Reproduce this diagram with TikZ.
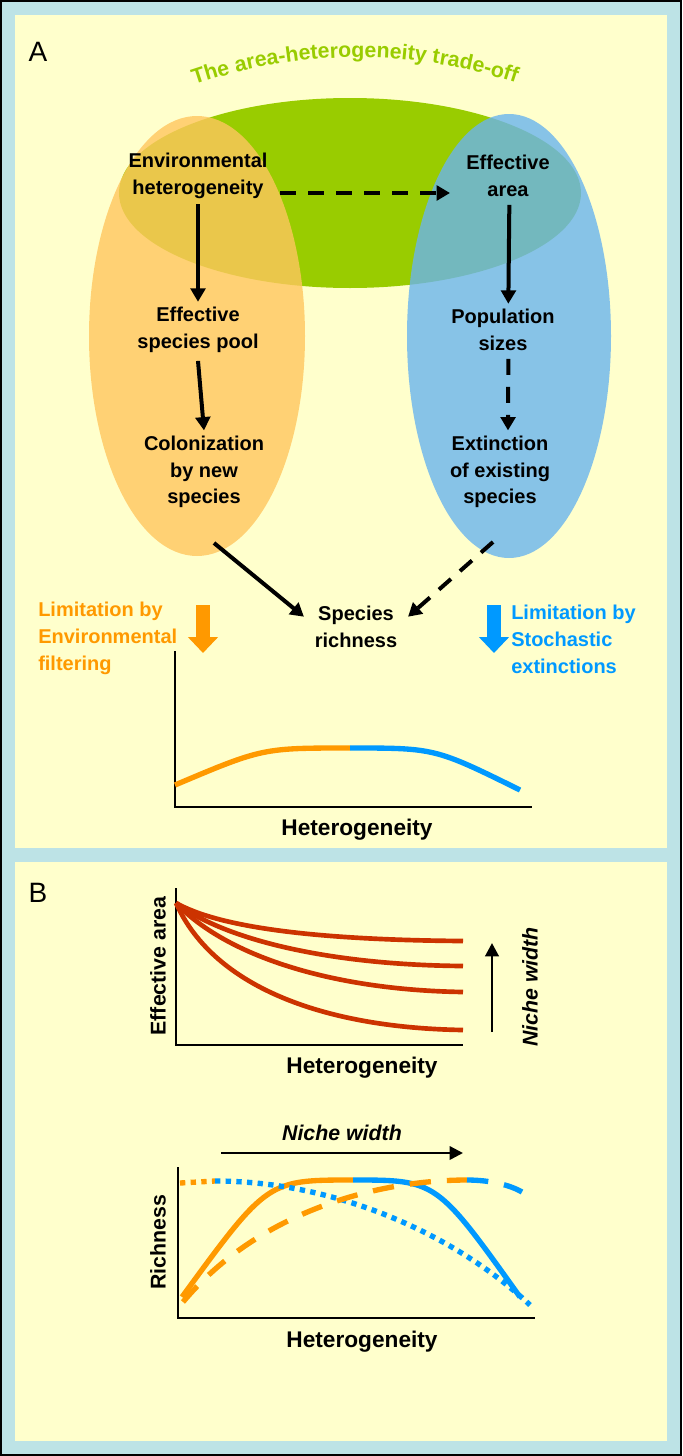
\documentclass[tikz,border=0pt]{standalone}
\usepackage{fontspec}
\setmainfont{Liberation Sans}
\usetikzlibrary{arrows.meta,decorations.text}
\definecolor{frame}{HTML}{BDE3E6}
\definecolor{pale}{HTML}{FFFFCC}
\definecolor{grn}{HTML}{99CC00}
\definecolor{org}{HTML}{FF9900}
\definecolor{orgfill}{HTML}{FFC65E}
\definecolor{blu}{HTML}{0099FF}
\definecolor{blufill}{HTML}{6AB4EE}
\definecolor{redc}{HTML}{CC3300}
\tikzset{
 lbl/.style={font=\fontsize{15}{20}\selectfont\bfseries, align=center, inner sep=0pt},
 axlbl/.style={font=\fontsize{17}{20}\selectfont\bfseries, inner sep=0pt},
 arr/.style={line width=3pt, -{Triangle[length=10pt,width=11pt]}},
 darr/.style={arr, dash pattern=on 12pt off 9pt},
 axis/.style={line width=2.2pt},
 crv/.style={line width=4pt},
 blk/.style={line width=11pt, -{Triangle[length=12pt,width=22pt]}},
}
\begin{document}
\begin{tikzpicture}[x=0.75pt,y=-0.75pt]
\useasboundingbox (0,0) rectangle (682,1456);
\fill[frame,draw=black,line width=1pt] (1,1) rectangle (681,1455);
\fill[pale] (15,15) rectangle (667,848);
\fill[pale] (15,862) rectangle (667,1441);
\node[font=\fontsize{21}{24}\selectfont, anchor=west] (A) at (24,52) {A};
\node[font=\fontsize{21}{24}\selectfont, anchor=west] (B) at (24,893) {B};
% ellipses
\fill[grn] (350,193) ellipse [x radius=231, y radius=95];
\fill[orgfill, opacity=0.8] (197,336) ellipse [x radius=108, y radius=220];
\fill[blufill, opacity=0.8] (509,336) ellipse [x radius=102, y radius=222];
% title
\path[decorate, decoration={text along path, text align=center, text color=grn,
 text={|\fontsize{16}{18}\selectfont\bfseries|The area-heterogeneity trade-off}}]
 (155,100) .. controls (290,42) and (430,45) .. (555,98);
% nodes
\node[lbl] (env) at (198,176) {Environmental\\heterogeneity};
\node[lbl] (area) at (508,176) {Effective\\area};
\node[lbl] (pool) at (198,330) {Effective\\species pool};
\node[lbl] (pop) at (503,330) {Population\\sizes};
\node[lbl] (col) at (204,472) {Colonization\\by new\\species};
\node[lbl] (ext) at (500,472) {Extinction\\of existing\\species};
\node[lbl] (rich) at (356,627) {Species\\richness};
\coordinate (colout) at (214,543);
\coordinate (extout) at (493,542);
\coordinate (e1) at (280,193);
\coordinate (e1b) at (450,193);
\draw[darr] (e1) -- (e1b);
\draw[arr] ([yshift=-4pt]env.south) -- ([yshift=4pt]pool.north);
\draw[arr] ([yshift=-6pt]pool.south) -- ([yshift=4pt]col.north);
\draw[arr] ([shift={(1pt,-6pt)}]area.south) -- ([shift={(4pt,4pt)}]pop.north);
\draw[darr] ([shift={(4pt,-6pt)}]pop.south) -- ([shift={(6pt,4pt)}]ext.north);
\draw[arr] (colout) -- ([shift={(-8pt,-8pt)}]rich.north west);
\draw[darr] (extout) -- ([shift={(8pt,-8pt)}]rich.north east);
% block arrows
\coordinate (ob) at (203,605);
\coordinate (oe) at (203,653);
\coordinate (bb) at (494,605);
\coordinate (be) at (494,653);
\draw[blk, org] (ob) -- (oe);
\draw[blk, blu] (bb) -- (be);
\node[lbl, align=left, anchor=north west, text=org] (lo) at (38,602) {Limitation by\\Environmental\\filtering};
\node[lbl, align=left, anchor=north west, text=blu] (lb) at (511,605) {Limitation by\\Stochastic\\extinctions};
% plot A
\draw[axis] (175,651) -- (175,807) -- (532,807);
\draw[crv, org] (175,785) .. controls (262.5,748) .. (350,748);
\draw[crv, blu] (350,748) .. controls (435,748) .. (520,790);
\node[axlbl] (hA) at (357,830) {Heterogeneity};
% plot B1
\draw[axis] (176,888) -- (176,1045) -- (463,1045);
\draw[redc, line width=3.5pt] (176,903) .. controls (220,928) and (320,940) .. (463,941);
\draw[redc, line width=3.5pt] (176,903) .. controls (225,940) and (330,965) .. (463,966);
\draw[redc, line width=3.5pt] (176,903) .. controls (225,955) and (330,990) .. (463,992);
\draw[redc, line width=3.5pt] (176,903) .. controls (215,990) and (330,1028) .. (463,1030);
\coordinate (nw1) at (492,1032);
\coordinate (nw2) at (492,943);
\draw[line width=2.2pt, -{Triangle[length=10pt,width=10pt]}] (nw1) -- (nw2);
\node[inner sep=0pt, font=\fontsize{16}{20}\selectfont\bfseries\itshape, rotate=90] (nwA) at (530,987) {Niche width};
\node[inner sep=0pt, font=\fontsize{16}{20}\selectfont\bfseries, rotate=90] (ea) at (158,966) {Effective area};
\node[axlbl] (hB1) at (362,1068) {Heterogeneity};
% plot B2
\coordinate (nw3) at (221,1153);
\coordinate (nw4) at (463,1153);
\draw[line width=1.8pt, -{Triangle[length=10pt,width=10pt]}] (nw3) -- (nw4);
\node[inner sep=0pt, font=\fontsize{16}{20}\selectfont\bfseries\itshape] (nwB) at (342,1133) {Niche width};
\draw[axis] (178,1167) -- (178,1318) -- (535,1318);
\draw[crv, org] (182,1297) .. controls (267.5,1180) .. (353,1180);
\draw[crv, blu] (353,1180) .. controls (436.5,1180) .. (520,1297);
\draw[crv, org, dash pattern=on 4pt off 4pt] (180,1183) -- (215,1181);
\draw[crv, blu, dash pattern=on 4pt off 4pt] (215,1181) .. controls (330,1181) and (450,1230) .. (530,1305);
\draw[crv, org, dash pattern=on 16pt off 12pt] (183,1302) .. controls (260,1210) and (380,1180) .. (467,1180);
\draw[crv, blu, dash pattern=on 16pt off 12pt] (467,1180) .. controls (490,1180) and (510,1185) .. (522,1192);
\node[inner sep=0pt, font=\fontsize{16}{20}\selectfont\bfseries, rotate=90] (ri) at (158,1242) {Richness};
\node[axlbl] (hB2) at (362,1342) {Heterogeneity};
\end{tikzpicture}
\end{document}
